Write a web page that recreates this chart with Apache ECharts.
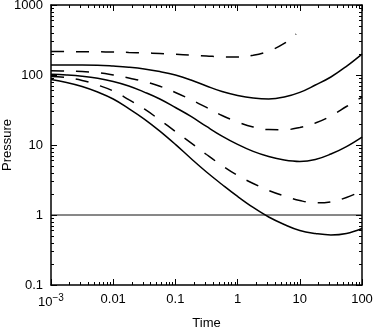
<!DOCTYPE html>
<html>
<head>
<meta charset="utf-8">
<style>
html, body { margin: 0; padding: 0; background: #fff; }
#main { width: 374px; height: 328px; }
</style>
</head>
<body>
<div id="main"></div>
<script src="https://cdn.jsdelivr.net/npm/echarts@6/dist/echarts.min.js"></script>
<script type="text/javascript">
// times read at quarter decades, shared by curves B..F
var timeGrid = [0.001, 0.00178, 0.00316, 0.00562, 0.01, 0.0178, 0.0316, 0.0562, 0.1, 0.178, 0.316,
                0.562, 1, 1.78, 3.16, 5.62, 10, 17.8, 31.6, 56.2, 100];

// top dashed curve stops near t = 9
var timeA = [0.001, 0.00178, 0.00316, 0.00562, 0.01, 0.0178, 0.0316, 0.0562, 0.1, 0.178, 0.316,
             0.562, 1, 1.78, 3.16, 5.62, 8.7];
var pressA = [217, 216.5, 215, 214.5, 213, 210, 207, 203, 197.5, 192, 187, 182, 181, 191, 220, 282, 385];

var pressB = [139, 139, 139, 138, 134, 129, 122, 112, 100, 84.8, 69.7, 58.1, 51.1, 46.9, 45.4, 48.4, 56.4, 71.9, 93.6, 133, 199];
var pressC = [115, 114, 112, 108, 100, 90.9, 80.7, 69.1, 56.3, 44.3, 34.4, 26.4, 21.3, 18.1, 16.6, 16.5, 17.8, 20.6, 26, 35.5, 48.4];
var pressD = [102.4, 100, 96.1, 89.9, 80.7, 69.7, 57, 45.4, 34.3, 25.6, 18.4, 13.4, 10.2, 8.1, 6.84, 6.11, 5.82, 6.2, 7.43, 9.5, 13.0];
var pressE = [95.2, 91.8, 83.7, 71.9, 59.2, 44.5, 32.7, 22.8, 15.6, 10.7, 7.32, 5.09, 3.67, 2.82, 2.24, 1.87, 1.61, 1.49, 1.54, 1.78, 2.2];
var pressF = [86.2, 78.2, 68.5, 57.1, 45.4, 33.2, 23.5, 15.8, 10.2, 6.41, 4.11, 2.73, 1.84, 1.28, 0.936, 0.732, 0.6, 0.544, 0.518, 0.544, 0.641];

// reference line at pressure = 1
var timeRef = [0.001, 100];
var pressRef = [1, 1];

var xTicks = [0.001, 0.01, 0.1, 1, 10, 100];
var yTicks = [0.1, 1, 10, 100, 1000];

function minorOf(ticks){
    var out = [];
    for(var i = 0; i < ticks.length - 1; i++){
        for(var k = 2; k <= 9; k++){
            out.push(Number((ticks[i] * k).toPrecision(6)));
        }
    }
    return out;
}
var xMinor = minorOf(xTicks);
var yMinor = minorOf(yTicks);

function pairs(xs, ys){
    var d = [];
    for(var i = 0; i < xs.length; i++){ d.push([xs[i], ys[i]]); }
    return d;
}

function fmt(v){
    v = Number(v.toPrecision(6));
    if(v === 0.001){ return '{b|10}{s|\u22123}'; }
    return String(v);
}

var black = '#000';
var font = 'Liberation Sans';

function xAx(pos, len, vals, main){
    return {
        type: 'log', position: pos, min: 0.001, max: 100,
        axisLine: { show: main, onZero: false, lineStyle: { color: black, width: 1.5 } },
        axisTick: { show: true, inside: true, length: len, customValues: vals, lineStyle: { color: black, width: 1 } },
        axisLabel: { show: false },
        splitLine: { show: false }
    };
}
function yAx(pos, len, vals, main){
    return {
        type: 'log', position: pos, min: 0.1, max: 1000,
        axisLine: { show: main, onZero: false, lineStyle: { color: black, width: 1.5 } },
        axisTick: { show: true, inside: true, length: len, customValues: vals, lineStyle: { color: black, width: 1 } },
        axisLabel: { show: false },
        splitLine: { show: false }
    };
}

var xMain = xAx('bottom', 6, xTicks, true);
xMain.axisLabel = {
    show: true, customValues: xTicks, formatter: fmt, color: black,
    fontSize: 13, fontFamily: font, margin: 8,
    rich: {
        b: { fontSize: 13, fontFamily: font, color: black },
        s: { fontSize: 10, fontFamily: font, color: black, padding: [0, 0, 8, 0] }
    }
};
xMain.name = 'Time';
xMain.nameLocation = 'middle';
xMain.nameGap = 32;
xMain.nameMoveOverlap = false;
xMain.nameTextStyle = { color: black, fontSize: 13, fontFamily: font };

var yMain = yAx('left', 6, yTicks, true);
yMain.axisLabel = {
    show: true, customValues: yTicks, formatter: fmt, color: black,
    fontSize: 13, fontFamily: font, margin: 8
};
yMain.name = 'Pressure';
yMain.nameLocation = 'middle';
yMain.nameGap = 37;
yMain.nameMoveOverlap = false;
yMain.nameTextStyle = { color: black, fontSize: 13, fontFamily: font };

function curve(name, xs, ys, dashed){
    return {
        name: name, type: 'line', xAxisIndex: 0, yAxisIndex: 0,
        data: pairs(xs, ys), showSymbol: false, smooth: 0.4,
        lineStyle: { color: black, width: 1.5, type: dashed ? [13, 12] : 'solid' }
    };
}

var myChart = echarts.init(document.getElementById('main'));
var option = {
    animation: false,
    backgroundColor: '#fff',
    textStyle: { fontFamily: font },
    grid: { left: 51, right: 12, top: 5, bottom: 43, containLabel: false, outerBoundsMode: 'none' },
    xAxis: [
        xMain,
        xAx('bottom', 3, xMinor, false),
        xAx('top', 6, xTicks, true),
        xAx('top', 3, xMinor, false)
    ],
    yAxis: [
        yMain,
        yAx('left', 3, yMinor, false),
        yAx('right', 6, yTicks, true),
        yAx('right', 3, yMinor, false)
    ],
    series: [
        {
            name: 'ref', type: 'line', xAxisIndex: 0, yAxisIndex: 0,
            data: pairs(timeRef, pressRef), showSymbol: false,
            lineStyle: { color: '#111', width: 1 }
        },
        curve('A', timeA, pressA, true),
        curve('B', timeGrid, pressB, false),
        curve('C', timeGrid, pressC, true),
        curve('D', timeGrid, pressD, false),
        curve('E', timeGrid, pressE, true),
        curve('F', timeGrid, pressF, false)
    ]
};
myChart.setOption(option);
</script>
</body>
</html>
